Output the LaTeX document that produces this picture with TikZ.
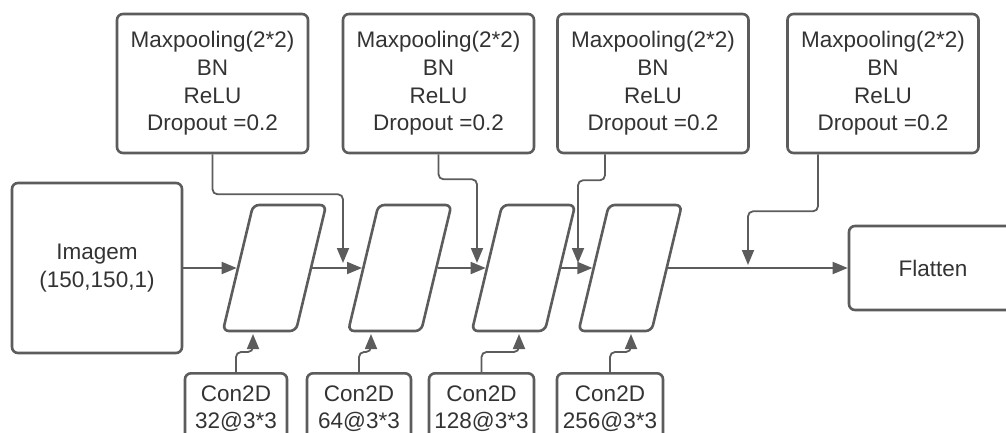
\documentclass[tikz,border=0pt]{standalone}
\usepackage{fontspec}
\setmainfont{Liberation Sans}
\usetikzlibrary{arrows.meta,positioning}
\definecolor{cinzalinha}{HTML}{5C5C5C}
\definecolor{cinzatexto}{HTML}{333333}

\begin{document}
\begin{tikzpicture}[x=1pt, y=-1pt,
        bloco/.style={draw=cinzalinha, line width=2.6pt, rounded corners=6pt, text=cinzatexto,
            align=center, inner sep=0pt, font=\fontsize{22.5}{27.7}\selectfont},
        camada/.style={draw=cinzalinha, line width=2.6pt, rounded corners=6pt, inner sep=0pt,
            minimum width=73pt, minimum height=126pt, xslant=0.24},
        seta/.style={draw=cinzalinha, line width=1.8pt, rounded corners=5pt,
            -{Triangle[length=15pt,width=12pt]}}]
        \clip (0,0) rectangle (1006,432);

        % Entrada e saida
        \node[bloco, minimum width=170pt, minimum height=170pt] (img) at (97,268) {Imagem\\(150,150,1)};
        \node[bloco, minimum width=168pt, minimum height=84pt] (flat) at (933,268) {Flatten};

        % Camadas convolucionais
        \node[camada] (cv1) at (274.5,268) {};
        \node[camada] (cv2) at (399.8,268) {};
        \node[camada] (cv3) at (523.5,268) {};
        \node[camada] (cv4) at (630.2,268) {};

        % Blocos de pooling
        \foreach \i/\x in {1/212.5, 2/438.5, 3/653, 4/883} {
            \node[bloco, minimum width=191pt, minimum height=139pt] (mp\i) at (\x,83.5)
                {Maxpooling(2*2)\\BN\\ReLU\\Dropout =0.2};
        }

        % Filtros
        \foreach \i/\x/\lab/\w in {1/236/32/102, 2/359/64/104, 3/481.5/128/105, 4/610/256/106} {
            \node[bloco, anchor=north, minimum width=\w pt, inner ysep=12pt] (k\i) at (\x,372)
                {Con2D\\\lab @3*3};
        }

        % Fluxo principal
        \draw[seta] (img.east) -- (cv1.west);
        \draw[seta] (cv1.east) -- (cv2.west);
        \draw[seta] (cv2.east) -- (cv3.west);
        \draw[seta] (cv3.east) -- (cv4.west);
        \draw[seta] (cv4.east) -- (flat.west);

        % Pooling -> fluxo
        \coordinate (p1) at (343,263);
        \coordinate (p2) at (477,263);
        \coordinate (p3) at (578,263);
        \coordinate (p4) at (748,265);
        \draw[seta] (mp1.south) -- ++(0,40) -| (p1);
        \draw[seta] (mp2.south) -- ++(0,25) -| (p2);
        \draw[seta] ([xshift=-48pt]mp3.south) -- ++(0,26) -| (p3);
        \draw[seta] ([xshift=-65pt]mp4.south) -- ++(0,57) -| (p4);

        % Filtros -> camadas
        \coordinate (q1) at (253,334);
        \coordinate (q2) at (371,334);
        \coordinate (q3) at (519,334);
        \coordinate (q4) at (631,334);
        \draw[seta] (k1.north) -- ++(0,-20) -| (q1);
        \draw[seta] (k2.north) -- ++(0,-20) -| (q2);
        \draw[seta] (k3.north) -- ++(0,-20) -| (q3);
        \draw[seta] (k4.north) -- ++(0,-20) -| (q4);
    \end{tikzpicture}
\end{document}
